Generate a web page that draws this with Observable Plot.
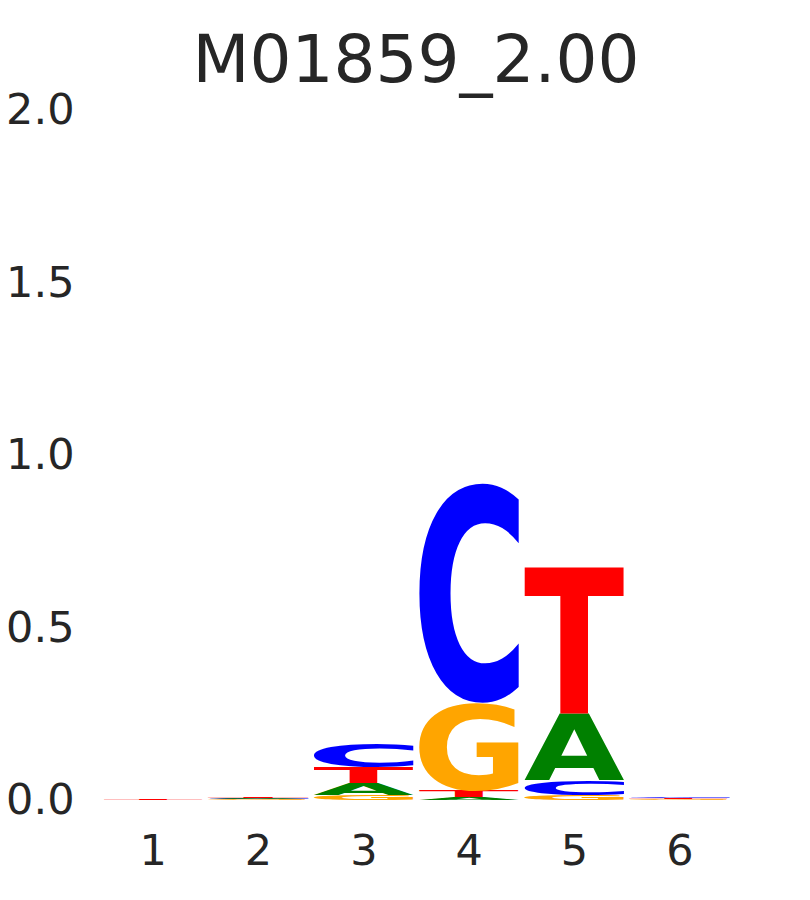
<!DOCTYPE html>
<html>
<head>
<meta charset="utf-8">
<script src="https://cdn.jsdelivr.net/npm/d3@7"></script>
<script src="https://cdn.jsdelivr.net/npm/@observablehq/plot@0.6"></script>
<style>
  html, body { margin: 0; padding: 0; background: #fff; }
  #title {
    width: 810px; height: 90px; box-sizing: border-box;
    padding-top: 26px; padding-left: 22px;
    font-family: "DejaVu Sans", sans-serif; font-size: 66px; line-height: 68px;
    color: #262626; text-align: center; overflow: visible; white-space: nowrap;
  }
  #chart svg { display: block; }
</style>
</head>
<body>
<div id="title">M01859_2.00</div>
<div id="chart"></div>
<script>
// Sequence logo data (information content per letter, bits)
const positions = [1, 2, 3, 4, 5, 6];
const letters = ["A", "C", "G", "T"];
const heightsA = [0.0002, 0.003, 0.035, 0.009, 0.191, 0.001];
const heightsC = [0.0002, 0.002, 0.072, 0.638, 0.043, 0.004];
const heightsG = [0.0002, 0.0015, 0.0145, 0.255, 0.014, 0.0015];
const heightsT = [0.004, 0.003, 0.046, 0.017, 0.426, 0.002];
const letterColors = ["green", "blue", "orange", "red"];
const yTicks = [0, 0.5, 1.0, 1.5, 2.0];
const titleText = "M01859_2.00";

document.getElementById("title").textContent = titleText;

const seriesByLetter = {A: heightsA, C: heightsC, G: heightsG, T: heightsT};
const colorByLetter = Object.fromEntries(letters.map((l, i) => [l, letterColors[i]]));

// Build stacked table: smallest at the bottom
const rows = [];
positions.forEach((p, i) => {
  const col = letters.map(l => ({pos: p, letter: l, value: seriesByLetter[l][i]}))
    .sort((a, b) => a.value - b.value);
  let base = 0;
  for (const r of col) {
    rows.push({...r, y1: base, y2: base + r.value});
    base += r.value;
  }
});

// Tight glyph metrics via canvas
const FONT_PX = 200;
const ctx = document.createElement("canvas").getContext("2d");
ctx.font = `bold ${FONT_PX}px "DejaVu Sans"`;
ctx.textAlign = "left";
const metrics = {};
for (const l of letters) {
  const m = ctx.measureText(l);
  metrics[l] = {
    L: m.actualBoundingBoxLeft, R: m.actualBoundingBoxRight,
    A: m.actualBoundingBoxAscent, D: m.actualBoundingBoxDescent
  };
}

const GLYPH_WIDTH = 0.95;

function logoMark(...args) {
  const sc = args.find(a => a && typeof a.x === "function" && typeof a.y === "function");
  const g = d3.create("svg:g").attr("text-anchor", "start");
  for (const r of rows) {
    const x0 = sc.x(r.pos - GLYPH_WIDTH / 2);
    const x1 = sc.x(r.pos + GLYPH_WIDTH / 2);
    const yTop = sc.y(r.y2);
    const yBot = sc.y(r.y1);
    const h = yBot - yTop;
    if (h <= 0) continue;
    const m = metrics[r.letter];
    const sx = (x1 - x0) / (m.L + m.R);
    const sy = h / (m.A + m.D);
    g.append("text")
      .attr("text-anchor", "start")
      .attr("font-family", "DejaVu Sans")
      .attr("font-weight", "bold")
      .attr("font-size", FONT_PX)
      .attr("fill", colorByLetter[r.letter])
      .attr("transform", `translate(${x0},${yTop}) scale(${sx},${sy}) translate(${m.L},${m.A})`)
      .text(r.letter);
  }
  return g.node();
}

const chart = Plot.plot({
  width: 810,
  height: 810,
  marginTop: 20,
  marginBottom: 100,
  marginLeft: 100,
  marginRight: 78,
  style: {
    fontFamily: "DejaVu Sans",
    fontSize: "43px",
    color: "#262626",
    background: "#fff",
    overflow: "visible"
  },
  x: {
    domain: [0.5, 6.5],
    ticks: positions,
    tickFormat: d => String(d),
    tickSize: 0,
    tickPadding: 34,
    label: null
  },
  y: {
    domain: [0, 2],
    ticks: yTicks,
    tickFormat: d3.format(".1f"),
    tickSize: 0,
    tickPadding: 26,
    label: null
  },
  marks: [
    logoMark
  ]
});
document.getElementById("chart").appendChild(chart);
</script>
</body>
</html>
